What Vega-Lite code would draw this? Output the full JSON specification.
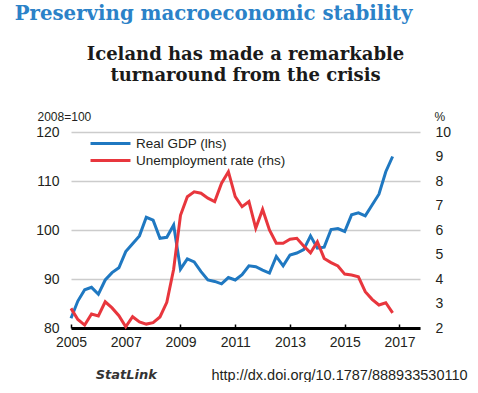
{
  "$schema": "https://vega.github.io/schema/vega-lite/v6.json",
  "background": "white",
  "padding": {"left": 14, "top": 4, "right": 0, "bottom": 0},
  "datasets": {
    "gdp": [
      {"t": 2005, "v": 82.0}, {"t": 2005.25, "v": 85.5}, {"t": 2005.5, "v": 87.8}, {"t": 2005.75, "v": 88.3},
      {"t": 2006, "v": 86.9}, {"t": 2006.25, "v": 89.8}, {"t": 2006.5, "v": 91.3}, {"t": 2006.75, "v": 92.3},
      {"t": 2007, "v": 95.6}, {"t": 2007.25, "v": 97.2}, {"t": 2007.5, "v": 98.8}, {"t": 2007.75, "v": 102.6},
      {"t": 2008, "v": 102.0}, {"t": 2008.25, "v": 98.3}, {"t": 2008.5, "v": 98.5}, {"t": 2008.75, "v": 101.0},
      {"t": 2009, "v": 92.0}, {"t": 2009.25, "v": 94.1}, {"t": 2009.5, "v": 93.5}, {"t": 2009.75, "v": 91.5},
      {"t": 2010, "v": 89.8}, {"t": 2010.25, "v": 89.5}, {"t": 2010.5, "v": 89.0}, {"t": 2010.75, "v": 90.3},
      {"t": 2011, "v": 89.8}, {"t": 2011.25, "v": 90.9}, {"t": 2011.5, "v": 92.7}, {"t": 2011.75, "v": 92.5},
      {"t": 2012, "v": 91.8}, {"t": 2012.25, "v": 91.2}, {"t": 2012.5, "v": 94.6}, {"t": 2012.75, "v": 92.7},
      {"t": 2013, "v": 94.9}, {"t": 2013.25, "v": 95.3}, {"t": 2013.5, "v": 96.0}, {"t": 2013.75, "v": 98.8},
      {"t": 2014, "v": 96.3}, {"t": 2014.25, "v": 96.5}, {"t": 2014.5, "v": 100.1}, {"t": 2014.75, "v": 100.3},
      {"t": 2015, "v": 99.7}, {"t": 2015.25, "v": 103.1}, {"t": 2015.5, "v": 103.5}, {"t": 2015.75, "v": 102.9},
      {"t": 2016, "v": 105.1}, {"t": 2016.25, "v": 107.3}, {"t": 2016.5, "v": 111.9}, {"t": 2016.75, "v": 115.0}
    ],
    "unemp": [
      {"t": 2005, "v": 2.80}, {"t": 2005.25, "v": 2.35}, {"t": 2005.5, "v": 2.12}, {"t": 2005.75, "v": 2.57},
      {"t": 2006, "v": 2.49}, {"t": 2006.25, "v": 3.07}, {"t": 2006.5, "v": 2.82}, {"t": 2006.75, "v": 2.50},
      {"t": 2007, "v": 2.05}, {"t": 2007.25, "v": 2.46}, {"t": 2007.5, "v": 2.25}, {"t": 2007.75, "v": 2.16},
      {"t": 2008, "v": 2.22}, {"t": 2008.25, "v": 2.45}, {"t": 2008.5, "v": 3.05}, {"t": 2008.75, "v": 4.4},
      {"t": 2009, "v": 6.6}, {"t": 2009.25, "v": 7.36}, {"t": 2009.5, "v": 7.56}, {"t": 2009.75, "v": 7.5},
      {"t": 2010, "v": 7.3}, {"t": 2010.25, "v": 7.16}, {"t": 2010.5, "v": 7.91}, {"t": 2010.75, "v": 8.38},
      {"t": 2011, "v": 7.36}, {"t": 2011.25, "v": 6.95}, {"t": 2011.5, "v": 7.16}, {"t": 2011.75, "v": 6.07},
      {"t": 2012, "v": 6.84}, {"t": 2012.25, "v": 6.0}, {"t": 2012.5, "v": 5.46}, {"t": 2012.75, "v": 5.46},
      {"t": 2013, "v": 5.62}, {"t": 2013.25, "v": 5.66}, {"t": 2013.5, "v": 5.35}, {"t": 2013.75, "v": 5.07},
      {"t": 2014, "v": 5.52}, {"t": 2014.25, "v": 4.84}, {"t": 2014.5, "v": 4.67}, {"t": 2014.75, "v": 4.53},
      {"t": 2015, "v": 4.20}, {"t": 2015.25, "v": 4.16}, {"t": 2015.5, "v": 4.09}, {"t": 2015.75, "v": 3.48},
      {"t": 2016, "v": 3.17}, {"t": 2016.25, "v": 2.94}, {"t": 2016.5, "v": 3.03}, {"t": 2016.75, "v": 2.62}
    ]
  },
  "title": {
    "text": "Preserving macroeconomic stability",
    "anchor": "start",
    "dx": -21,
    "color": "#2b82c8",
    "font": "DejaVu Serif",
    "fontSize": 19.75,
    "fontWeight": "bold",
    "offset": 22
  },
  "config": {
    "view": {"stroke": null},
    "font": "Liberation Sans"
  },
  "vconcat": [
    {
      "title": {
        "text": "StatLink",
        "orient": "bottom",
        "anchor": "start",
        "dx": 60,
        "dy": -17,
        "font": "DejaVu Sans",
        "fontStyle": "italic",
        "fontWeight": "bold",
        "fontSize": 13,
        "color": "#333333"
      },
      "vconcat": [
        {
          "width": 349,
          "height": 196,
          "title": {
            "text": ["Iceland has made a remarkable", "turnaround from the crisis"],
            "anchor": "middle",
            "frame": "group",
            "font": "DejaVu Serif",
            "fontSize": 18,
            "fontWeight": "bold",
            "lineHeight": 21,
            "color": "#1a1a1a",
            "offset": 25
          },
          "resolve": {"scale": {"y": "independent"}},
          "layer": [
            {
              "data": {"name": "gdp"},
              "mark": {"type": "line", "strokeWidth": 3},
              "encoding": {
                "x": {
                  "field": "t", "type": "quantitative",
                  "scale": {"domain": [2005, 2017.75], "nice": false, "zero": false},
                  "axis": {
                    "values": [2005, 2007, 2009, 2011, 2013, 2015, 2017],
                    "format": "d",
                    "grid": false,
                    "labelFlush": false,
                    "domainColor": "#000000", "domainWidth": 3,
                    "tickColor": "#000000", "tickSize": -4, "tickWidth": 1.5,
                    "labelPadding": 11, "labelFontSize": 14, "labelColor": "#231f20",
                    "title": "http://dx.doi.org/10.1787/888933530110",
                    "titleFont": "Liberation Sans", "titleFontSize": 14.5, "titleFontWeight": "normal",
                    "titleColor": "#231f20",
                    "titleAlign": "left", "titleAnchor": "start",
                    "titleX": 140, "titleY": 47, "titleBaseline": "middle"
                  }
                },
                "y": {
                  "field": "v", "type": "quantitative",
                  "scale": {"domain": [80, 120], "nice": false, "zero": false},
                  "axis": {
                    "values": [80, 90, 100, 110, 120],
                    "grid": true, "gridColor": "#cccccc", "gridWidth": 1.5,
                    "domain": false, "ticks": false,
                    "labelPadding": 12, "labelFontSize": 14, "labelColor": "#231f20",
                    "title": "2008=100",
                    "titleFont": "Liberation Sans", "titleFontSize": 12, "titleFontWeight": "normal",
                    "titleColor": "#231f20", "titleAngle": 0,
                    "titleAlign": "left", "titleBaseline": "middle",
                    "titleX": -34, "titleY": -16
                  }
                },
                "color": {
                  "datum": "Real GDP (lhs)",
                  "type": "nominal",
                  "scale": {"domain": ["Real GDP (lhs)", "Unemployment rate (rhs)"], "range": ["#1f78c1", "#e8363d"]},
                  "legend": {
                    "title": null, "orient": "none", "legendX": 29.5, "legendY": 1.5,
                    "padding": 0,
                    "symbolType": "M-2.35,0L2.35,0", "symbolSize": 289, "symbolStrokeWidth": 3,
                    "labelFontSize": 13.5, "labelColor": "#231f20",
                    "labelOffset": 15.5, "rowPadding": 0
                  }
                }
              }
            },
            {
              "data": {"name": "unemp"},
              "mark": {"type": "line", "strokeWidth": 3},
              "encoding": {
                "x": {"field": "t", "type": "quantitative"},
                "y": {
                  "field": "v", "type": "quantitative",
                  "scale": {"domain": [2, 10], "nice": false, "zero": false},
                  "axis": {
                    "orient": "right",
                    "values": [2, 3, 4, 5, 6, 7, 8, 9, 10],
                    "grid": false, "domain": false, "ticks": false,
                    "labelPadding": 15, "labelFontSize": 14, "labelColor": "#231f20",
                    "title": "%",
                    "titleFont": "Liberation Sans", "titleFontSize": 12, "titleFontWeight": "normal",
                    "titleColor": "#231f20", "titleAngle": 0,
                    "titleAlign": "left", "titleBaseline": "middle",
                    "titleX": 14, "titleY": -16
                  }
                },
                "color": {"datum": "Unemployment rate (rhs)", "type": "nominal"}
              }
            }
          ]
        }
      ]
    }
  ]
}
